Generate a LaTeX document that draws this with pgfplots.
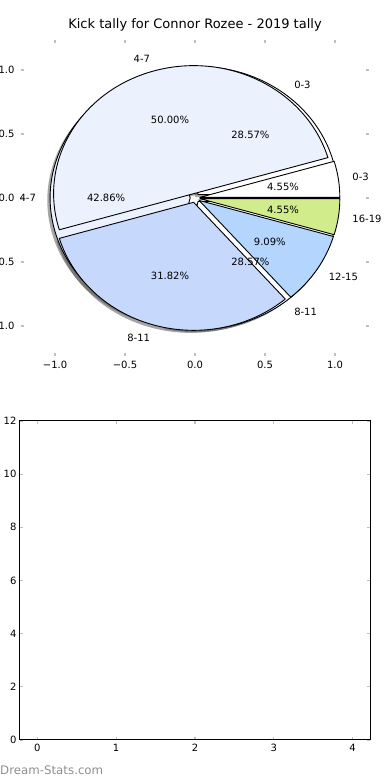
\documentclass[border=0pt]{standalone}
\usepackage{pgfplots}
\pgfplotsset{compat=1.18}
\usepackage{pgfplotstable}
\usepackage{fontspec}
\setmainfont{DejaVu Sans}

\definecolor{cA0}{HTML}{FFFFFF}
\definecolor{cA1}{HTML}{EBF2FE}
\definecolor{cA2}{HTML}{C6D9FD}
\definecolor{cA3}{HTML}{B4D6FE}
\definecolor{cA4}{HTML}{D1EC8B}
\definecolor{cB0}{HTML}{FFFFFF}
\definecolor{cB1}{HTML}{EBF2FE}
\definecolor{cB2}{HTML}{FFFFFF}
\definecolor{tickgray}{HTML}{BFBFBF}
\definecolor{wmgray}{HTML}{8F8F8F}

% 2019 kick tally, by disposal band (22 kicks)
\pgfplotstableread{
label count
0-3 1
4-7 11
8-11 7
12-15 2
16-19 1
}\pieA
% second tally (7 kicks)
\pgfplotstableread{
label count
0-3 2
4-7 3
8-11 2
}\pieB

\def\pieexplode{0.035}

\newcommand\preparepie[2]{%
  \gdef\pietotal{0}%
  \pgfplotstableforeachcolumnelement{count}\of#2\as\cnt{%
    \pgfmathsetmacro\tmp{\pietotal+\cnt}\xdef\pietotal{\tmp}}%
  \gdef\piecum{0}%
  \pgfplotstableforeachcolumnelement{count}\of#2\as\cnt{%
    \pgfmathsetmacro\ps{\piecum}%
    \pgfmathsetmacro\pe{\piecum+360*\cnt/\pietotal}%
    \pgfmathsetmacro\pmid{(\ps+\pe)/2}%
    \pgfmathsetmacro\pp{100*\cnt/\pietotal}%
    \pgfmathsetmacro\pdx{\pieexplode*cos(\pmid)}%
    \pgfmathsetmacro\pdy{\pieexplode*sin(\pmid)}%
    \pgfmathsetmacro\plx{(1.1+\pieexplode)*cos(\pmid)}%
    \pgfmathsetmacro\ply{(1.1+\pieexplode)*sin(\pmid)}%
    \pgfmathsetmacro\pcx{(0.6+\pieexplode)*cos(\pmid)}%
    \pgfmathsetmacro\pcy{(0.6+\pieexplode)*sin(\pmid)}%
    \ifdim\plx pt>0pt \def\panc{west}\else\def\panc{east}\fi
    \edef\prow{\pgfplotstablerow}%
    \pgfplotstablegetelem{\prow}{label}\of#2%
    \expandafter\xdef\csname pie#1l\prow\endcsname{\pgfplotsretval}%
    \expandafter\xdef\csname pie#1s\prow\endcsname{\ps}%
    \expandafter\xdef\csname pie#1e\prow\endcsname{\pe}%
    \expandafter\xdef\csname pie#1p\prow\endcsname{\pp}%
    \expandafter\xdef\csname pie#1dx\prow\endcsname{\pdx}%
    \expandafter\xdef\csname pie#1dy\prow\endcsname{\pdy}%
    \expandafter\xdef\csname pie#1lx\prow\endcsname{\plx}%
    \expandafter\xdef\csname pie#1ly\prow\endcsname{\ply}%
    \expandafter\xdef\csname pie#1cx\prow\endcsname{\pcx}%
    \expandafter\xdef\csname pie#1cy\prow\endcsname{\pcy}%
    \expandafter\xdef\csname pie#1a\prow\endcsname{\panc}%
    \xdef\piecum{\pe}%
  }%
}

% wedge: #1 pie, #2 index, #3 path style, #4 extra x offset, #5 extra y offset
\newcommand\piewedge[5]{%
  \begin{scope}[shift={(axis cs:{\csname pie#1dx#2\endcsname+#4},{\csname pie#1dy#2\endcsname+#5})},
      x={(axis direction cs:1,0)}, y={(axis direction cs:0,1)}]
    \path[#3] (0,0) -- ({\csname pie#1s#2\endcsname}:1)
      arc[start angle={\csname pie#1s#2\endcsname}, end angle={\csname pie#1e#2\endcsname}, radius=1] -- cycle;
  \end{scope}}

\newcommand\pietexts[2]{%
  \node[anchor/.expanded={\csname pie#1a#2\endcsname}, inner sep=0pt, font=\fontsize{10}{12}\selectfont]
    at (axis cs:{\csname pie#1lx#2\endcsname},{\csname pie#1ly#2\endcsname}) {\csname pie#1l#2\endcsname};
  \node[inner sep=0pt, font=\fontsize{10}{12}\selectfont]
    at (axis cs:{\csname pie#1cx#2\endcsname},{\csname pie#1cy#2\endcsname})
    {\pgfmathprintnumber[fixed,fixed zerofill,precision=2,assume math mode=true]{\csname pie#1p#2\endcsname}\%};}

\preparepie{A}{\pieA}
\preparepie{B}{\pieB}

\begin{document}
\begin{tikzpicture}
\path[use as bounding box] (0,0) rectangle (390pt,780pt);
\begin{axis}[
  at={(21pt,424pt)}, anchor=south west, scale only axis,
  width=348pt, height=316pt,
  xmin=-1.243, xmax=1.243, ymin=-1.234, ymax=1.234,
  xtick={-1,-0.5,0,0.5,1}, xticklabels={−1.0,−0.5,0.0,0.5,1.0},
  ytick={-1,-0.5,0,0.5,1}, yticklabels={−1.0,−0.5,0.0,0.5,1.0},
  axis line style={draw=none},
  tick align=inside, tick pos=both, major tick length=3pt,
  tick style={tickgray, line width=1.2pt},
  tick label style={font=\fontsize{10}{12}\selectfont},
  yticklabel style={xshift=-3pt},
  xticklabel style={yshift=-2pt},
  title={Kick tally for Connor Rozee - 2019 tally},
  title style={font=\fontsize{13}{15}\selectfont, at={(0.5,1)}, anchor=base, yshift=5.5pt},
  clip=false,
]
\pgfplotsinvokeforeach{0,1,2}{\piewedge{B}{#1}{fill=black!70, fill opacity=0.5}{-0.02}{-0.02}}
\pgfplotsinvokeforeach{0,...,4}{\piewedge{A}{#1}{fill=black!70, fill opacity=0.5}{-0.02}{-0.02}}
\pgfplotsinvokeforeach{0,1,2}{\piewedge{B}{#1}{fill=cB#1, draw=black, line width=0.9pt, line join=round}{0}{0}}
\pgfplotsinvokeforeach{0,...,4}{\piewedge{A}{#1}{fill=cA#1, draw=black, line width=0.9pt, line join=round}{0}{0}}
\pgfplotsinvokeforeach{0,1,2}{\pietexts{B}{#1}}
\pgfplotsinvokeforeach{0,...,4}{\pietexts{A}{#1}}
\end{axis}
\begin{axis}[
  at={(20pt,40pt)}, anchor=south west, scale only axis,
  width=350pt, height=319pt,
  xmin=-0.22, xmax=4.22, ymin=0, ymax=12,
  xtick={0,1,2,3,4}, ytick={0,2,4,6,8,10,12},
  axis line style={black, line width=1pt},
  tick align=inside, tick pos=both, major tick length=3pt,
  tick style={tickgray, line width=1.2pt},
  tick label style={font=\fontsize{10}{12}\selectfont},
  /pgf/number format/assume math mode=true,
  xticklabel style={yshift=-1pt},
]
\end{axis}
\node[anchor=west, inner sep=0pt, text=wmgray, font=\fontsize{11.8}{14}\selectfont] at (0pt,10pt) {Dream-Stats.com};
\end{tikzpicture}
\end{document}
